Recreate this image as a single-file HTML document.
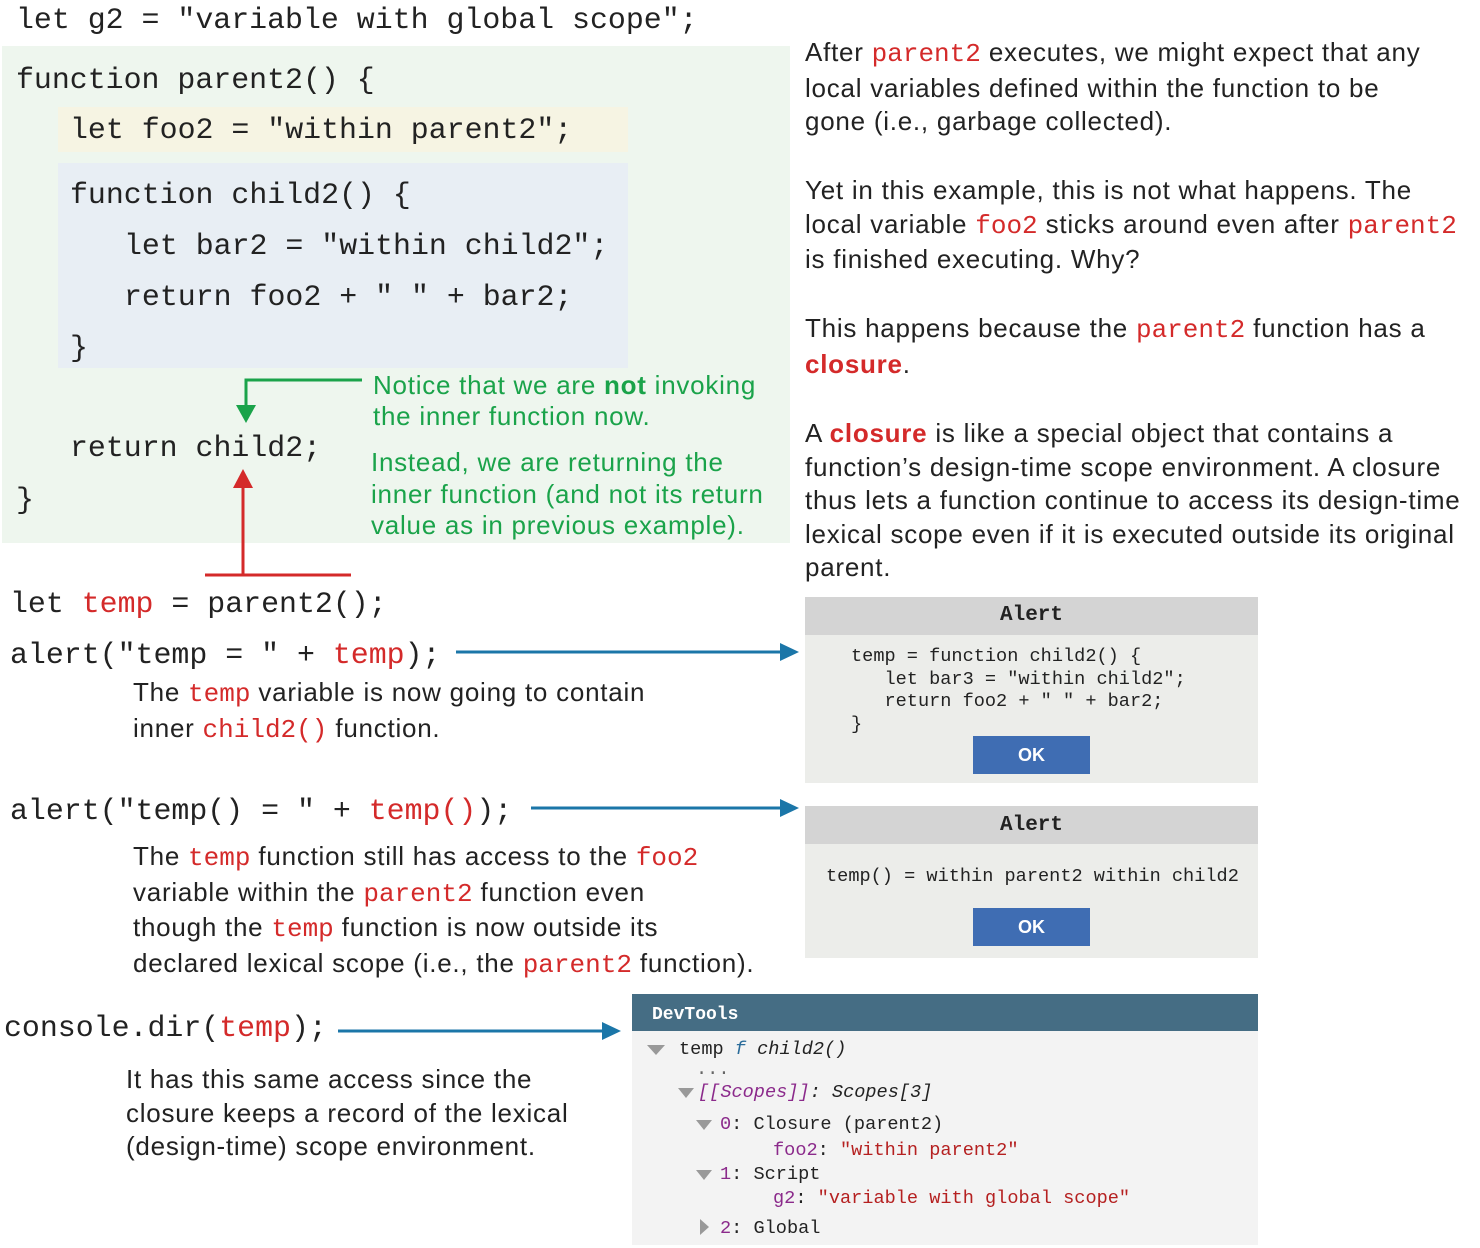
<!DOCTYPE html>
<html><head><meta charset="utf-8"><style>
body{margin:0;width:1480px;height:1248px;background:#fff;position:relative;overflow:hidden}
.a{position:absolute;white-space:pre}
.m{font-family:"Liberation Mono","DejaVu Sans Mono",monospace;font-size:29.9px;line-height:36px;color:#222}
.s{font-family:"Liberation Sans",sans-serif;font-size:26px;line-height:33.6px;color:#222;letter-spacing:0.75px}
.g{color:#1aa34a}
.r{color:#d42a2a}
.rb{color:#d42a2a;font-weight:bold}
.rm{font-family:"Liberation Mono",monospace;color:#d42a2a;letter-spacing:0}
.sm{font-family:"Liberation Mono",monospace;font-size:18.6px;line-height:22.5px;color:#222}
.box{position:absolute}
</style></head><body>
<div class="box" style="left:2px;top:46px;width:788px;height:497px;background:#eef6ee"></div>
<div class="box" style="left:58px;top:107px;width:570px;height:45px;background:#f6f4e3"></div>
<div class="box" style="left:58px;top:163px;width:570px;height:205px;background:#e8eef4"></div>

<div class="a m" style="left:16px;top:2px">let g2 = "variable with global scope";</div>
<div class="a m" style="left:16px;top:62px">function parent2() {</div>
<div class="a m" style="left:70px;top:112px">let foo2 = "within parent2";</div>
<div class="a m" style="left:70px;top:177px">function child2() {</div>
<div class="a m" style="left:124px;top:228px">let bar2 = "within child2";</div>
<div class="a m" style="left:124px;top:279px">return foo2 + " " + bar2;</div>
<div class="a m" style="left:70px;top:330px">}</div>
<div class="a m" style="left:70px;top:430px">return child2;</div>
<div class="a m" style="left:16px;top:482px">}</div>

<div class="a s g" style="left:373px;top:370px;line-height:31px">Notice that we are <b>not</b> invoking
the inner function now.</div>
<div class="a s g" style="left:371px;top:447px;line-height:31.5px">Instead, we are returning the
inner function (and not its return
value as in previous example).</div>

<div class="a m" style="left:10px;top:586px">let <span class="r">temp</span> = parent2();</div>
<div class="a m" style="left:10px;top:637px">alert("temp = " + <span class="r">temp</span>);</div>
<div class="a s" style="left:133px;top:676px">The <span class="rm">temp</span> variable is now going to contain
inner <span class="rm">child2()</span> function.</div>
<div class="a m" style="left:10px;top:793px">alert("temp() = " + <span class="r">temp()</span>);</div>
<div class="a s" style="left:133px;top:840px">The <span class="rm">temp</span> function still has access to the <span class="rm">foo2</span>
variable within the <span class="rm">parent2</span> function even
though the <span class="rm">temp</span> function is now outside its
declared lexical scope (i.e., the <span class="rm">parent2</span> function).</div>
<div class="a m" style="left:4px;top:1010px">console.dir(<span class="r">temp</span>);</div>
<div class="a s" style="left:126px;top:1063px">It has this same access since the
closure keeps a record of the lexical
(design-time) scope environment.</div>

<div class="a s" style="left:805px;top:36px">After <span class="rm">parent2</span> executes, we might expect that any
local variables defined within the function to be
gone (i.e., garbage collected).</div>
<div class="a s" style="left:805px;top:174px">Yet in this example, this is not what happens. The
local variable <span class="rm">foo2</span> sticks around even after <span class="rm">parent2</span>
is finished executing. Why?</div>
<div class="a s" style="left:805px;top:312px">This happens because the <span class="rm">parent2</span> function has a
<span class="rb">closure</span>.</div>
<div class="a s" style="left:805px;top:417px">A <span class="rb">closure</span> is like a special object that contains a
function’s design-time scope environment. A closure
thus lets a function continue to access its design-time
lexical scope even if it is executed outside its original
parent.</div>

<!-- Alert 1 -->
<div class="box" style="left:805px;top:597px;width:453px;height:186px;background:#ecedea"></div>
<div class="box" style="left:805px;top:597px;width:453px;height:38px;background:#d4d4d4"></div>
<div class="a sm" style="left:805px;top:605px;width:453px;text-align:center;font-weight:bold;font-size:21px">Alert</div>
<div class="a sm" style="left:851px;top:646px">temp = function child2() {
   let bar3 = "within child2";
   return foo2 + " " + bar2;
}</div>
<div class="box" style="left:973px;top:736px;width:117px;height:38px;background:#3f6db3;color:#fff;font:bold 18px 'Liberation Sans',sans-serif;text-align:center;line-height:38px">OK</div>

<!-- Alert 2 -->
<div class="box" style="left:805px;top:806px;width:453px;height:152px;background:#ecedea"></div>
<div class="box" style="left:805px;top:806px;width:453px;height:38px;background:#d4d4d4"></div>
<div class="a sm" style="left:805px;top:815px;width:453px;text-align:center;font-weight:bold;font-size:21px">Alert</div>
<div class="a sm" style="left:826px;top:866px">temp() = within parent2 within child2</div>
<div class="box" style="left:973px;top:908px;width:117px;height:38px;background:#3f6db3;color:#fff;font:bold 18px 'Liberation Sans',sans-serif;text-align:center;line-height:38px">OK</div>

<!-- DevTools -->
<div class="box" style="left:632px;top:994px;width:626px;height:251px;background:#f3f3f3"></div>
<div class="box" style="left:632px;top:994px;width:626px;height:37px;background:#456d84"></div>
<div class="a sm" style="left:652px;top:1004px;color:#fff;font-weight:bold;font-size:18px">DevTools</div>
<div class="a sm" style="left:679px;top:1039px">temp <i style="color:#2a6c9a">f</i> <i>child2()</i></div>
<div class="a sm" style="left:696px;top:1059px;color:#666">...</div>
<div class="a sm" style="left:698px;top:1082px"><i style="color:#8b2a8b">[[Scopes]]</i><i>: Scopes[3]</i></div>
<div class="a sm" style="left:720px;top:1114px"><span style="color:#8b2a8b">0</span>: Closure (parent2)</div>
<div class="a sm" style="left:773px;top:1140px"><span style="color:#8b2a8b">foo2</span>: <span style="color:#b52020">"within parent2"</span></div>
<div class="a sm" style="left:720px;top:1164px"><span style="color:#8b2a8b">1</span>: Script</div>
<div class="a sm" style="left:773px;top:1188px"><span style="color:#8b2a8b">g2</span>: <span style="color:#b52020">"variable with global scope"</span></div>
<div class="a sm" style="left:720px;top:1218px"><span style="color:#8b2a8b">2</span>: Global</div>

<svg class="box" style="left:0;top:0" width="1480" height="1248">
<g fill="#999">
<polygon points="647,1045 665,1045 656,1055"/>
<polygon points="678,1088 694,1088 686,1098"/>
<polygon points="696,1120 712,1120 704,1130"/>
<polygon points="696,1170 712,1170 704,1180"/>
<polygon points="700,1219 700,1235 709,1227"/>
</g>
<g stroke="#1aa34a" stroke-width="3" fill="none"><polyline points="362,380 246,380 246,408"/></g>
<polygon points="236,405 256,405 246,423" fill="#1aa34a"/>
<g stroke="#d42a2a" stroke-width="3" fill="none"><line x1="205" y1="575" x2="351" y2="575"/><line x1="243" y1="575" x2="243" y2="485"/></g>
<polygon points="233,488 253,488 243,469" fill="#d42a2a"/>
<g stroke="#1b76a8" stroke-width="3"><line x1="456" y1="652" x2="785" y2="652"/><line x1="531" y1="808" x2="785" y2="808"/><line x1="338" y1="1031" x2="606" y2="1031"/></g>
<g fill="#1b76a8"><polygon points="780,643 799,652 780,661"/><polygon points="780,799 799,808 780,817"/><polygon points="602,1022 621,1031 602,1040"/></g>
</svg>
</body></html>
